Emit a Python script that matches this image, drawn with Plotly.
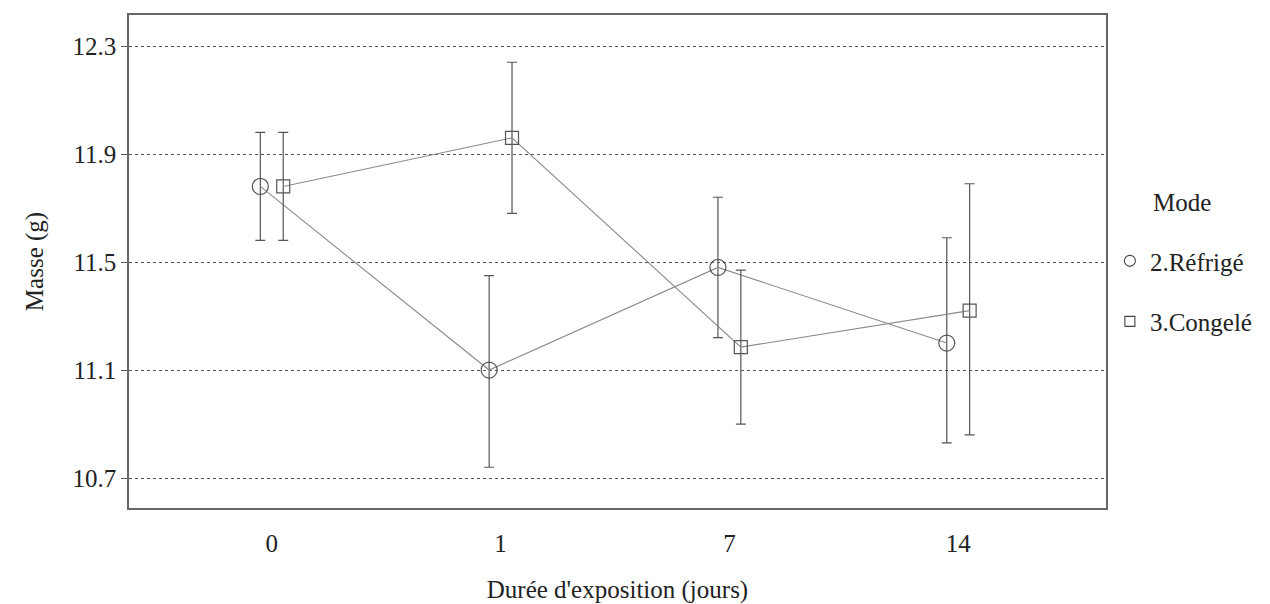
import plotly.graph_objects as go

categories = ["0", "1", "7", "14"]
series_names = ["2.Réfrigé", "3.Congelé"]
refrige_mean = [11.78, 11.10, 11.48, 11.20]
refrige_upper = [11.98, 11.45, 11.74, 11.59]
refrige_lower = [11.58, 10.74, 11.22, 10.83]
congele_mean = [11.78, 11.96, 11.185, 11.32]
congele_upper = [11.98, 12.24, 11.47, 11.79]
congele_lower = [11.58, 11.68, 10.90, 10.86]
y_ticks = [10.7, 11.1, 11.5, 11.9, 12.3]

FONT = "Liberation Serif, DejaVu Serif, serif"
FS = 25
pos = list(range(len(categories)))
dodge = 0.05

fig = go.Figure()
specs = [
    (series_names[0], refrige_mean, refrige_upper, refrige_lower, -dodge, "circle-open", 16, 11),
    (series_names[1], congele_mean, congele_upper, congele_lower, dodge, "square-open", 13, 10),
]
for i, (name, m, up, lo, off, sym, sz, lsz) in enumerate(specs):
    fig.add_trace(go.Scatter(
        x=[p + off for p in pos], y=m, name=name, legendgroup=name, showlegend=False,
        mode="lines+markers",
        line=dict(color="#8a8a8a", width=1.1),
        marker=dict(symbol=sym, size=sz, color="#555555", line=dict(width=1.2, color="#555555")),
        error_y=dict(type="data", symmetric=False,
                     array=[u - v for u, v in zip(up, m)],
                     arrayminus=[v - l for v, l in zip(m, lo)],
                     color="#555555", thickness=1.2, width=5),
    ))
    # legend entry showing only the marker
    fig.add_trace(go.Scatter(
        x=[None], y=[None], name=name, legendgroup=name, showlegend=True,
        mode="markers",
        marker=dict(symbol=sym, size=lsz, color="#444444", line=dict(width=1.1, color="#444444")),
    ))

fig.update_layout(
    width=1270, height=604,
    margin=dict(l=129, r=162, t=15, b=96),
    plot_bgcolor="white", paper_bgcolor="white",
    font=dict(family=FONT, size=FS, color="#222222"),
    showlegend=True,
    legend=dict(x=1.004, y=0.44, xanchor="left", yanchor="middle",
                font=dict(family=FONT, size=FS, color="#222222"),
                tracegroupgap=25, traceorder="grouped"),
    xaxis=dict(range=[-0.624, 3.646], tickvals=pos, ticktext=categories,
               showgrid=False, zeroline=False, showline=True, mirror=True,
               linecolor="#666666", linewidth=1.5, ticks="", ticklabelstandoff=12,
               automargin=False,
               title=dict(text="Durée d'exposition (jours)", standoff=30,
                          font=dict(family=FONT, size=FS))),
    yaxis=dict(range=[10.589, 12.415], tickvals=y_ticks, ticktext=[f"{v:.1f}" for v in y_ticks],
               showgrid=True, gridcolor="#555555", griddash="3px,3px", gridwidth=1,
               zeroline=False, showline=True, mirror=True,
               linecolor="#666666", linewidth=1.5, ticks="outside", ticklen=6,
               tickcolor="#555555", automargin=False,
               title=dict(text="Masse (g)", standoff=22, font=dict(family=FONT, size=FS))),
    annotations=[dict(text="Mode", xref="paper", yref="paper", x=1.078, y=0.619,
                      xanchor="center", yanchor="middle", showarrow=False,
                      font=dict(family=FONT, size=FS, color="#222222"))],
)

fig.write_html("out.html")
